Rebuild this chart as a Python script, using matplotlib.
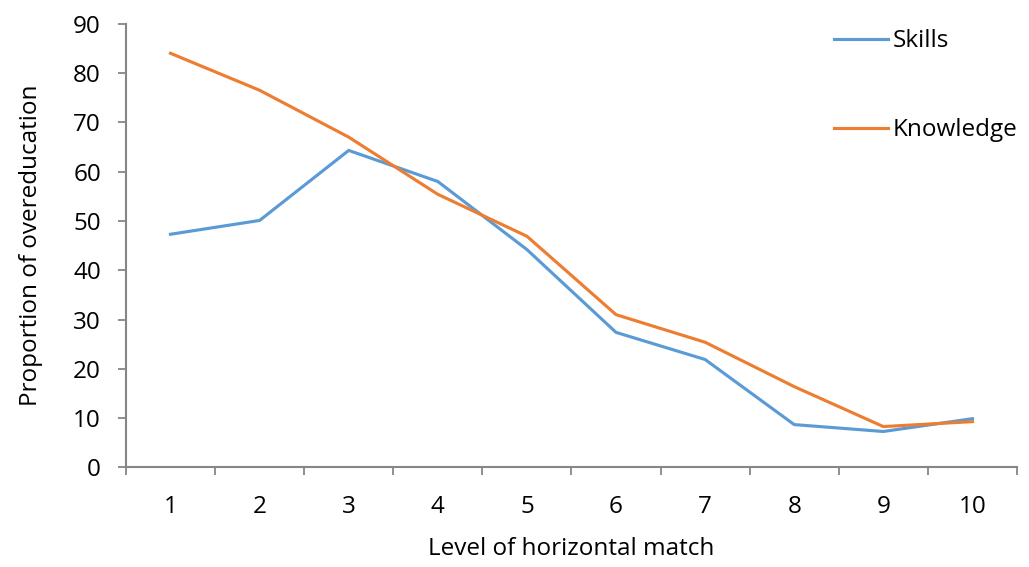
import matplotlib
matplotlib.use("Agg")
import matplotlib.pyplot as plt
from matplotlib.ticker import FixedLocator

levels = [1, 2, 3, 4, 5, 6, 7, 8, 9, 10]
skills = [47.3, 50.1, 64.3, 58.0, 44.2, 27.4, 21.9, 8.7, 7.3, 9.9]
knowledge = [84.0, 76.5, 67.0, 55.4, 46.9, 31.0, 25.4, 16.4, 8.3, 9.3]

plt.rcParams['font.family'] = ['Open Sans', 'DejaVu Sans']
AXIS = '#868686'
FS = 17.5

fig = plt.figure(figsize=(10.29, 5.67), dpi=100)
ax = fig.add_axes([0.1224, 0.1755, 0.8659, 0.7827])

ax.plot(levels, skills, color='#5B9BD5', lw=2.25, label='Skills')
ax.plot(levels, knowledge, color='#ED7D31', lw=2.25, label='Knowledge')

ax.set_xlim(0.5, 10.5)
ax.set_ylim(0, 90)
ax.set_yticks(range(0, 91, 10))
ax.set_xticks(levels)
ax.xaxis.set_minor_locator(FixedLocator([i + 0.5 for i in range(0, 11)]))
ax.tick_params(axis='x', which='major', length=0, pad=20, labelsize=FS)
ax.tick_params(axis='x', which='minor', length=6, width=1.3, color=AXIS)
ax.tick_params(axis='y', length=6, width=1.3, color=AXIS, labelsize=FS, pad=12)

for s in ['top', 'right']:
    ax.spines[s].set_visible(False)
for s in ['left', 'bottom']:
    ax.spines[s].set_color(AXIS)
    ax.spines[s].set_linewidth(1.5)

ax.set_xlabel('Level of horizontal match', fontsize=FS, labelpad=13)
ax.set_ylabel('Proportion of overeducation', fontsize=FS, labelpad=22)

ax.legend(loc='upper left', bbox_to_anchor=(0.799, 0.970), bbox_transform=fig.transFigure,
          frameon=False, fontsize=FS, handlelength=2.2, handletextpad=0.2,
          labelspacing=2.67, borderpad=0)

fig.savefig('out.png', dpi=100)
